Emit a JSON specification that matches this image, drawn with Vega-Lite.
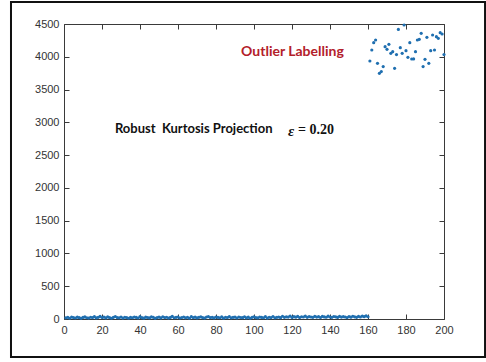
{
  "$schema": "https://vega.github.io/schema/vega-lite/v6.json",
  "width": 380,
  "height": 295,
  "autosize": {"type": "none"},
  "padding": {"left": 64, "top": 24, "right": 42, "bottom": 43},
  "background": "white",
  "config": {
    "view": {"stroke": "#3a3a3a", "strokeWidth": 1},
    "axis": {
      "domain": false,
      "grid": false,
      "title": null,
      "ticks": true,
      "tickSize": -5,
      "tickWidth": 1,
      "tickColor": "#3a3a3a",
      "labelColor": "#333333",
      "labelFont": "Liberation Sans",
      "labelFontSize": 11,
      "labelPadding": 10,
      "labelFlush": false,
      "format": "d"
    }
  },
  "datasets": {
    "pts": [
      {"x":1,"y":18},{"x":2,"y":25},{"x":3,"y":12},{"x":4,"y":30},{"x":5,"y":22},{"x":6,"y":15},{"x":7,"y":28},{"x":8,"y":20},{"x":9,"y":10},{"x":10,"y":24},
      {"x":11,"y":32},{"x":12,"y":19},{"x":13,"y":14},{"x":14,"y":27},{"x":15,"y":21},{"x":16,"y":35},{"x":17,"y":17},{"x":18,"y":26},{"x":19,"y":40},{"x":20,"y":23},
      {"x":21,"y":29},{"x":22,"y":16},{"x":23,"y":33},{"x":24,"y":20},{"x":25,"y":12},{"x":26,"y":25},{"x":27,"y":38},{"x":28,"y":22},{"x":29,"y":18},{"x":30,"y":30},
      {"x":31,"y":14},{"x":32,"y":27},{"x":33,"y":21},{"x":34,"y":11},{"x":35,"y":26},{"x":36,"y":19},{"x":37,"y":31},{"x":38,"y":24},{"x":39,"y":15},{"x":40,"y":36},
      {"x":41,"y":20},{"x":42,"y":13},{"x":43,"y":28},{"x":44,"y":23},{"x":45,"y":17},{"x":46,"y":32},{"x":47,"y":25},{"x":48,"y":10},{"x":49,"y":22},{"x":50,"y":29},
      {"x":51,"y":16},{"x":52,"y":34},{"x":53,"y":21},{"x":54,"y":27},{"x":55,"y":14},{"x":56,"y":24},{"x":57,"y":39},{"x":58,"y":19},{"x":59,"y":26},{"x":60,"y":31},
      {"x":61,"y":15},{"x":62,"y":23},{"x":63,"y":30},{"x":64,"y":18},{"x":65,"y":27},{"x":66,"y":12},{"x":67,"y":35},{"x":68,"y":22},{"x":69,"y":28},{"x":70,"y":17},
      {"x":71,"y":25},{"x":72,"y":33},{"x":73,"y":20},{"x":74,"y":14},{"x":75,"y":29},{"x":76,"y":37},{"x":77,"y":21},{"x":78,"y":26},{"x":79,"y":16},{"x":80,"y":30},
      {"x":81,"y":24},{"x":82,"y":19},{"x":83,"y":32},{"x":84,"y":13},{"x":85,"y":27},{"x":86,"y":22},{"x":87,"y":36},{"x":88,"y":18},{"x":89,"y":25},{"x":90,"y":29},
      {"x":91,"y":15},{"x":92,"y":31},{"x":93,"y":23},{"x":94,"y":20},{"x":95,"y":34},{"x":96,"y":17},{"x":97,"y":28},{"x":98,"y":12},{"x":99,"y":26},{"x":100,"y":33},
      {"x":101,"y":21},{"x":102,"y":16},{"x":103,"y":30},{"x":104,"y":24},{"x":105,"y":19},{"x":106,"y":35},{"x":107,"y":14},{"x":108,"y":27},{"x":109,"y":22},{"x":110,"y":38},
      {"x":111,"y":18},{"x":112,"y":25},{"x":113,"y":31},{"x":114,"y":20},{"x":115,"y":42},{"x":116,"y":26},{"x":117,"y":33},{"x":118,"y":29},{"x":119,"y":45},{"x":120,"y":24},
      {"x":121,"y":36},{"x":122,"y":28},{"x":123,"y":40},{"x":124,"y":22},{"x":125,"y":34},{"x":126,"y":30},{"x":127,"y":44},{"x":128,"y":26},{"x":129,"y":37},{"x":130,"y":31},
      {"x":131,"y":25},{"x":132,"y":41},{"x":133,"y":29},{"x":134,"y":35},{"x":135,"y":23},{"x":136,"y":39},{"x":137,"y":32},{"x":138,"y":27},{"x":139,"y":43},{"x":140,"y":30},
      {"x":141,"y":26},{"x":142,"y":38},{"x":143,"y":33},{"x":144,"y":24},{"x":145,"y":40},{"x":146,"y":29},{"x":147,"y":35},{"x":148,"y":31},{"x":149,"y":22},{"x":150,"y":37},
      {"x":151,"y":28},{"x":152,"y":42},{"x":153,"y":33},{"x":154,"y":26},{"x":155,"y":39},{"x":156,"y":30},{"x":157,"y":45},{"x":158,"y":36},{"x":159,"y":48},{"x":160,"y":34},
      {"x":161,"y":3936},{"x":162,"y":4104},{"x":163,"y":4215},{"x":164,"y":4256},{"x":165,"y":3900},{"x":166,"y":3748},{"x":167,"y":3774},{"x":168,"y":3850},{"x":169,"y":4154},{"x":170,"y":4114},
      {"x":171,"y":4190},{"x":172,"y":4053},{"x":173,"y":4078},{"x":174,"y":3824},{"x":175,"y":4033},{"x":176,"y":4418},{"x":177,"y":4139},{"x":178,"y":4053},{"x":179,"y":4485},{"x":180,"y":4093},
      {"x":181,"y":3992},{"x":182,"y":4215},{"x":183,"y":3966},{"x":184,"y":3967},{"x":185,"y":4078},{"x":186,"y":4256},{"x":187,"y":4266},{"x":188,"y":4357},{"x":189,"y":3850},{"x":190,"y":3961},
      {"x":191,"y":4297},{"x":192,"y":3900},{"x":193,"y":4093},{"x":194,"y":4332},{"x":195,"y":4104},{"x":196,"y":4307},{"x":197,"y":4281},{"x":198,"y":4368},{"x":199,"y":4347},{"x":200,"y":4033}
    ],
    "one": [{"k": 1}]
  },
  "layer": [
    {
      "data": {"name": "pts"},
      "mark": {"type": "circle", "size": 10, "color": "#1f6fb0", "opacity": 1},
      "encoding": {
        "x": {"field": "x", "type": "quantitative", "scale": {"domain": [0, 200], "nice": false, "zero": false},
              "axis": {"orient": "bottom", "values": [0,20,40,60,80,100,120,140,160,180,200]}},
        "y": {"field": "y", "type": "quantitative", "scale": {"domain": [0, 4500], "nice": false},
              "axis": {"orient": "left", "values": [0,500,1000,1500,2000,2500,3000,3500,4000,4500]}}
      }
    },
    {
      "data": {"name": "pts"},
      "mark": {"type": "point", "opacity": 0},
      "encoding": {
        "x": {"field": "x", "type": "quantitative",
              "axis": {"orient": "top", "labels": false, "values": [0,20,40,60,80,100,120,140,160,180,200]}},
        "y": {"field": "y", "type": "quantitative",
              "axis": {"orient": "right", "labels": false, "values": [0,500,1000,1500,2000,2500,3000,3500,4000,4500]}}
      }
    },
    {
      "data": {"name": "one"},
      "mark": {"type": "text", "text": "Outlier Labelling", "font": "Lato", "fontWeight": "bold", "fontSize": 14, "color": "#b3202a", "align": "left", "baseline": "middle"},
      "encoding": {
        "x": {"datum": 93.2, "type": "quantitative", "axis": null},
        "y": {"datum": 4073, "type": "quantitative", "axis": null}
      }
    },
    {
      "data": {"name": "one"},
      "mark": {"type": "text", "text": "Robust\u00a0\u00a0Kurtosis Projection", "font": "Lato", "fontWeight": "bold", "fontSize": 13, "color": "#111111", "align": "left", "baseline": "middle"},
      "encoding": {
        "x": {"datum": 26.8, "type": "quantitative", "axis": null},
        "y": {"datum": 2898, "type": "quantitative", "axis": null}
      }
    },
    {
      "data": {"name": "one"},
      "mark": {"type": "text", "text": "ε", "font": "Liberation Serif", "fontStyle": "italic", "fontWeight": "bold", "fontSize": 15, "color": "#111111", "align": "left", "baseline": "middle"},
      "encoding": {
        "x": {"datum": 117.9, "type": "quantitative", "axis": null},
        "y": {"datum": 2875, "type": "quantitative", "axis": null}
      }
    },
    {
      "data": {"name": "one"},
      "mark": {"type": "text", "text": "= 0.20", "font": "Liberation Serif", "fontWeight": "bold", "fontSize": 14, "color": "#111111", "align": "left", "baseline": "middle"},
      "encoding": {
        "x": {"datum": 123.2, "type": "quantitative", "axis": null},
        "y": {"datum": 2885, "type": "quantitative", "axis": null}
      }
    },
    {
      "data": {"name": "one"},
      "mark": {"type": "rect", "filled": false, "stroke": "#111111", "strokeWidth": 2, "clip": false},
      "encoding": {
        "x": {"datum": -27.9, "type": "quantitative", "axis": null},
        "x2": {"datum": 221.6},
        "y": {"datum": 4836, "type": "quantitative", "axis": null},
        "y2": {"datum": -580}
      }
    }
  ],
  "resolve": {"axis": {"x": "independent", "y": "independent"}}
}
